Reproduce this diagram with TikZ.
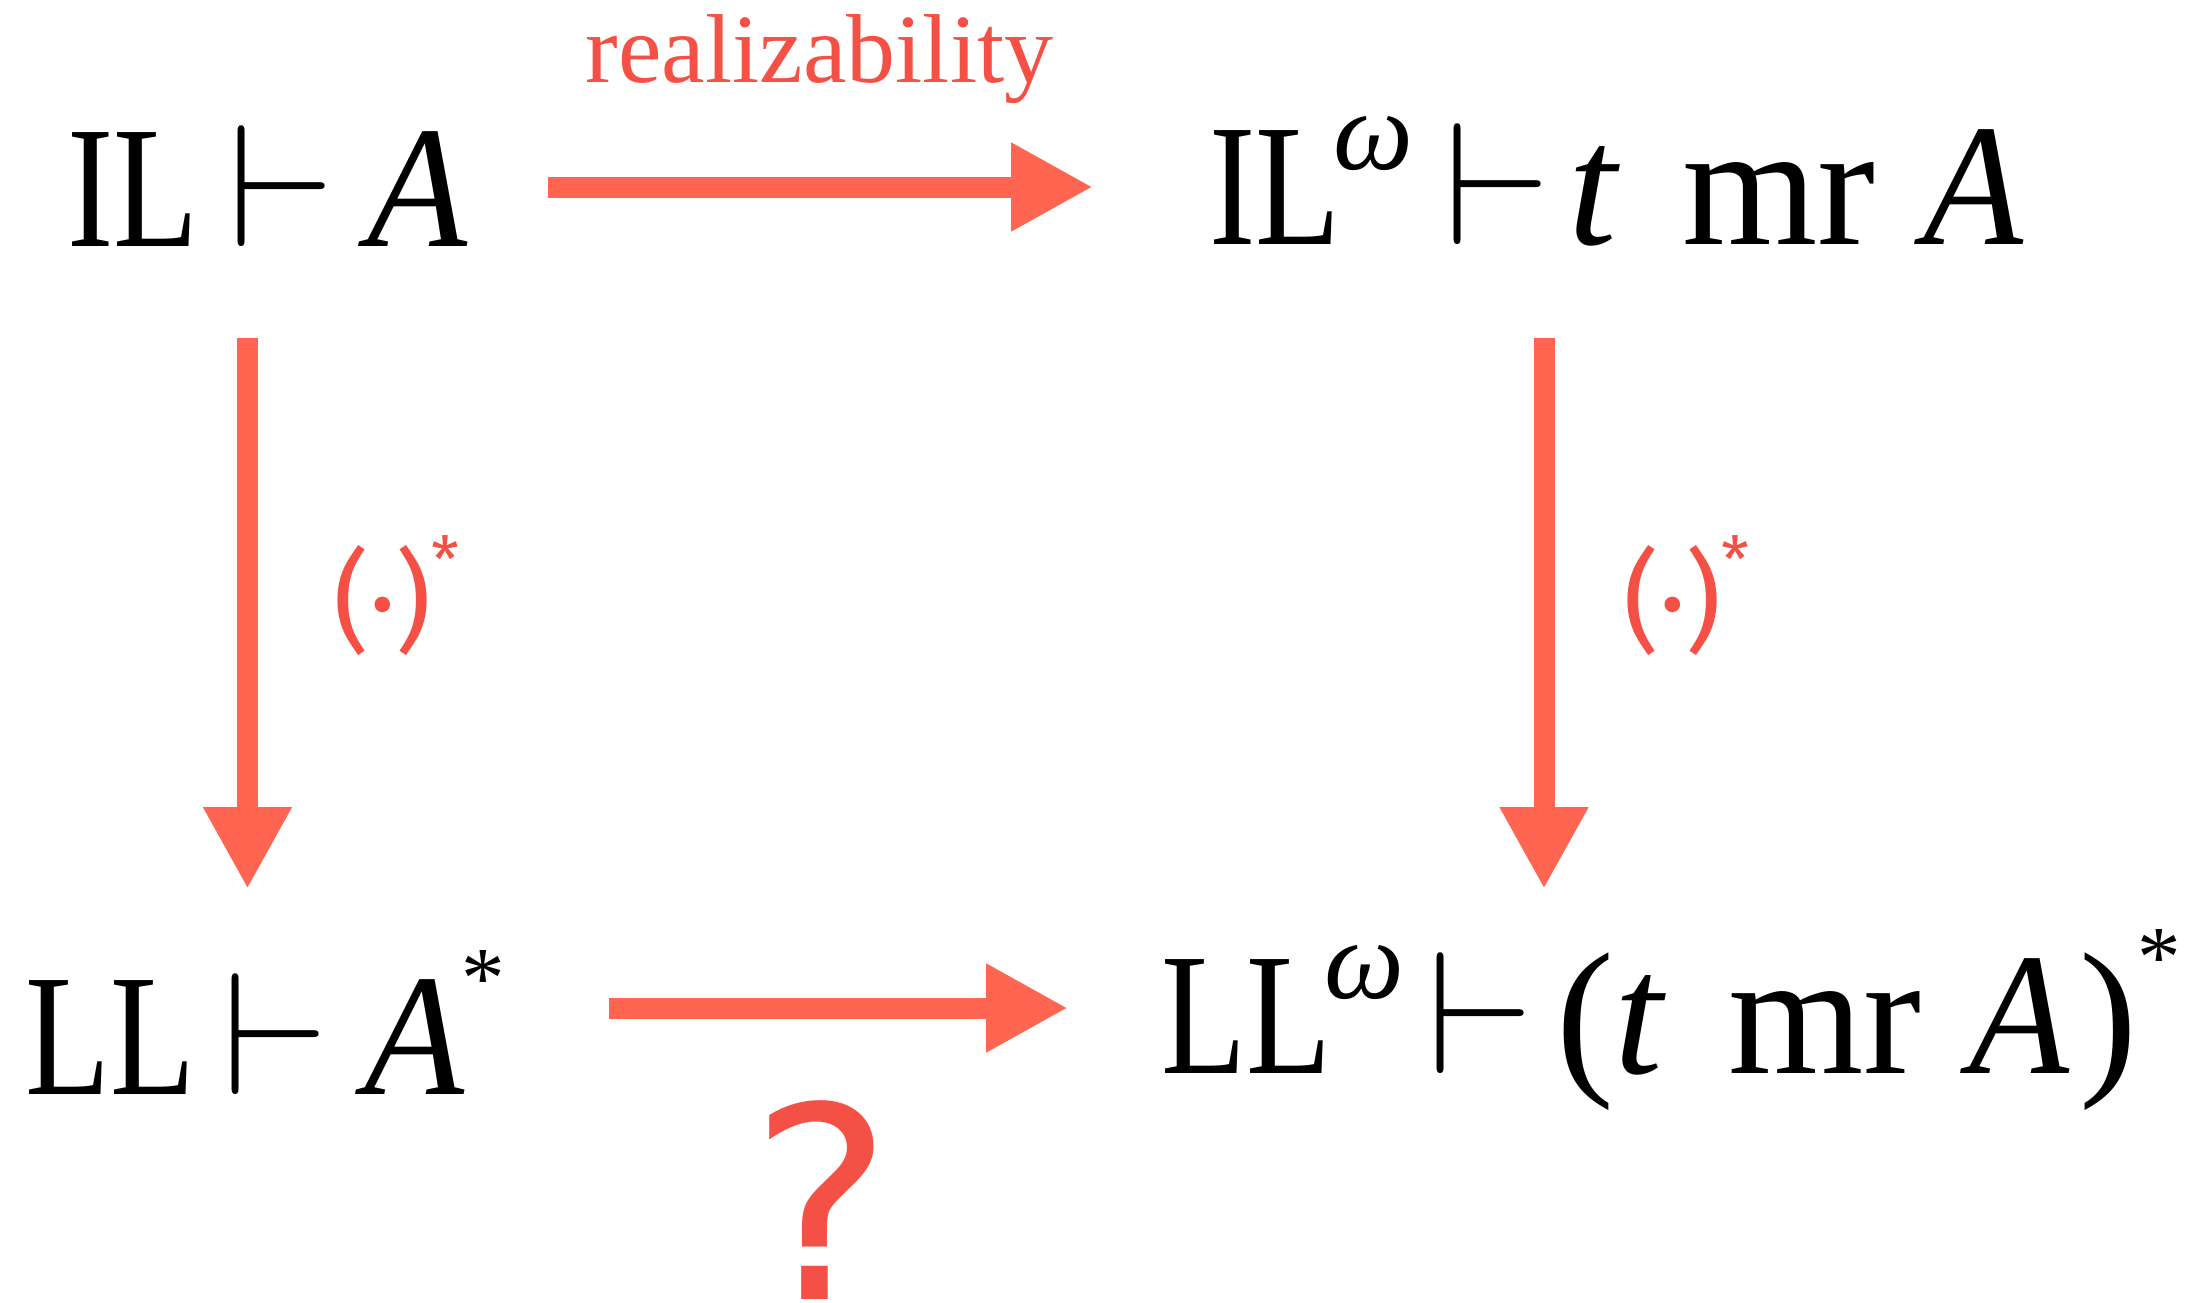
\documentclass[tikz,border=0pt]{standalone}
\usepackage{graphicx}
\usepackage{fontspec}
\setmainfont{Liberation Serif}
\newfontfamily\labfont{Fira Sans}
\newfontfamily\qfont{DejaVu Sans}
\usetikzlibrary{arrows.meta}
\definecolor{arrowc}{RGB}{255,101,80}
\definecolor{labc}{RGB}{245,80,70}
\newcommand{\nrw}[1]{\scalebox{0.8}[1]{#1}}
\newcommand{\itA}{\scalebox{0.94}[1]{\textit{A}}}
\newcommand{\supw}{\hspace{-0.4pt}\raisebox{4.3pt}{\fontsize{6.5}{7}\selectfont\textit{ω}}}
\newcommand{\supast}{\raisebox{5pt}{\fontsize{5}{6}\selectfont *}}
\newcommand{\labast}{\raisebox{3.27pt}{\fontsize{3.65}{4}\selectfont *}}
\begin{document}
\begin{tikzpicture}[x=1pt,y=-1pt,
  formula/.style={anchor=base west, inner sep=0pt, outer sep=0pt, scale=17.4},
  lab/.style={formula, text=labc},
  arr/.style={draw=arrowc, line width=21pt, -{Triangle[width=83pt,length=82pt]}}]
\useasboundingbox (0,0) rectangle (2201,1302);
% formulas
\node[formula] (tl) at (67.5,246) {\nrw{IL}\hspace{1.72pt}$\vdash$\hspace{1.85pt}\itA};
\node[formula] (tr) at (1209.5,244) {\nrw{IL}\supw\hspace{1.76pt}$\vdash$\hspace{1.0pt}\textit{t}\hspace{3.6pt}mr\hspace{2.76pt}\itA};
\node[formula] (bl) at (25.3,1094) {\nrw{LL}\hspace{1.55pt}$\vdash$\hspace{2.07pt}\itA\hspace{-0.2pt}\supast};
\node[formula] (br) at (1161.3,1073) {\nrw{LL}\supw\hspace{1.36pt}$\vdash$\hspace{1.26pt}(\hspace{0.04pt}\textit{t}\hspace{3.56pt}mr\hspace{2.76pt}\itA\hspace{0.55pt})\supast};
% labels
\node[lab] (real) at (585.5,82) {\fontsize{5.63}{6}\selectfont realizability};
\node[lab, anchor=base] (quest) at (822,1299) {\qfont\fontsize{15.4}{17}\selectfont\raisebox{0pt}[\height][0pt]{?}};
\node[lab] (starl) at (333,639) {\labfont\fontsize{6.4}{7}\selectfont(·)\labast};
\node[lab] (starr) at (1623,639) {\labfont\fontsize{6.4}{7}\selectfont(·)\labast};
% arrow end points
\coordinate (tl-out) at (548,187);
\coordinate (tr-in) at (1093,187);
\coordinate (bl-out) at (609,1008);
\coordinate (br-in) at (1068,1008);
\coordinate (tl-down) at (247.5,338);
\coordinate (bl-up) at (247.5,889);
\coordinate (tr-down) at (1544,338);
\coordinate (br-up) at (1544,889);
% arrows
\draw[arr] (tl-out) -- (tr-in);
\draw[arr] (bl-out) -- (br-in);
\draw[arr] (tl-down) -- (bl-up);
\draw[arr] (tr-down) -- (br-up);
\end{tikzpicture}
\end{document}
